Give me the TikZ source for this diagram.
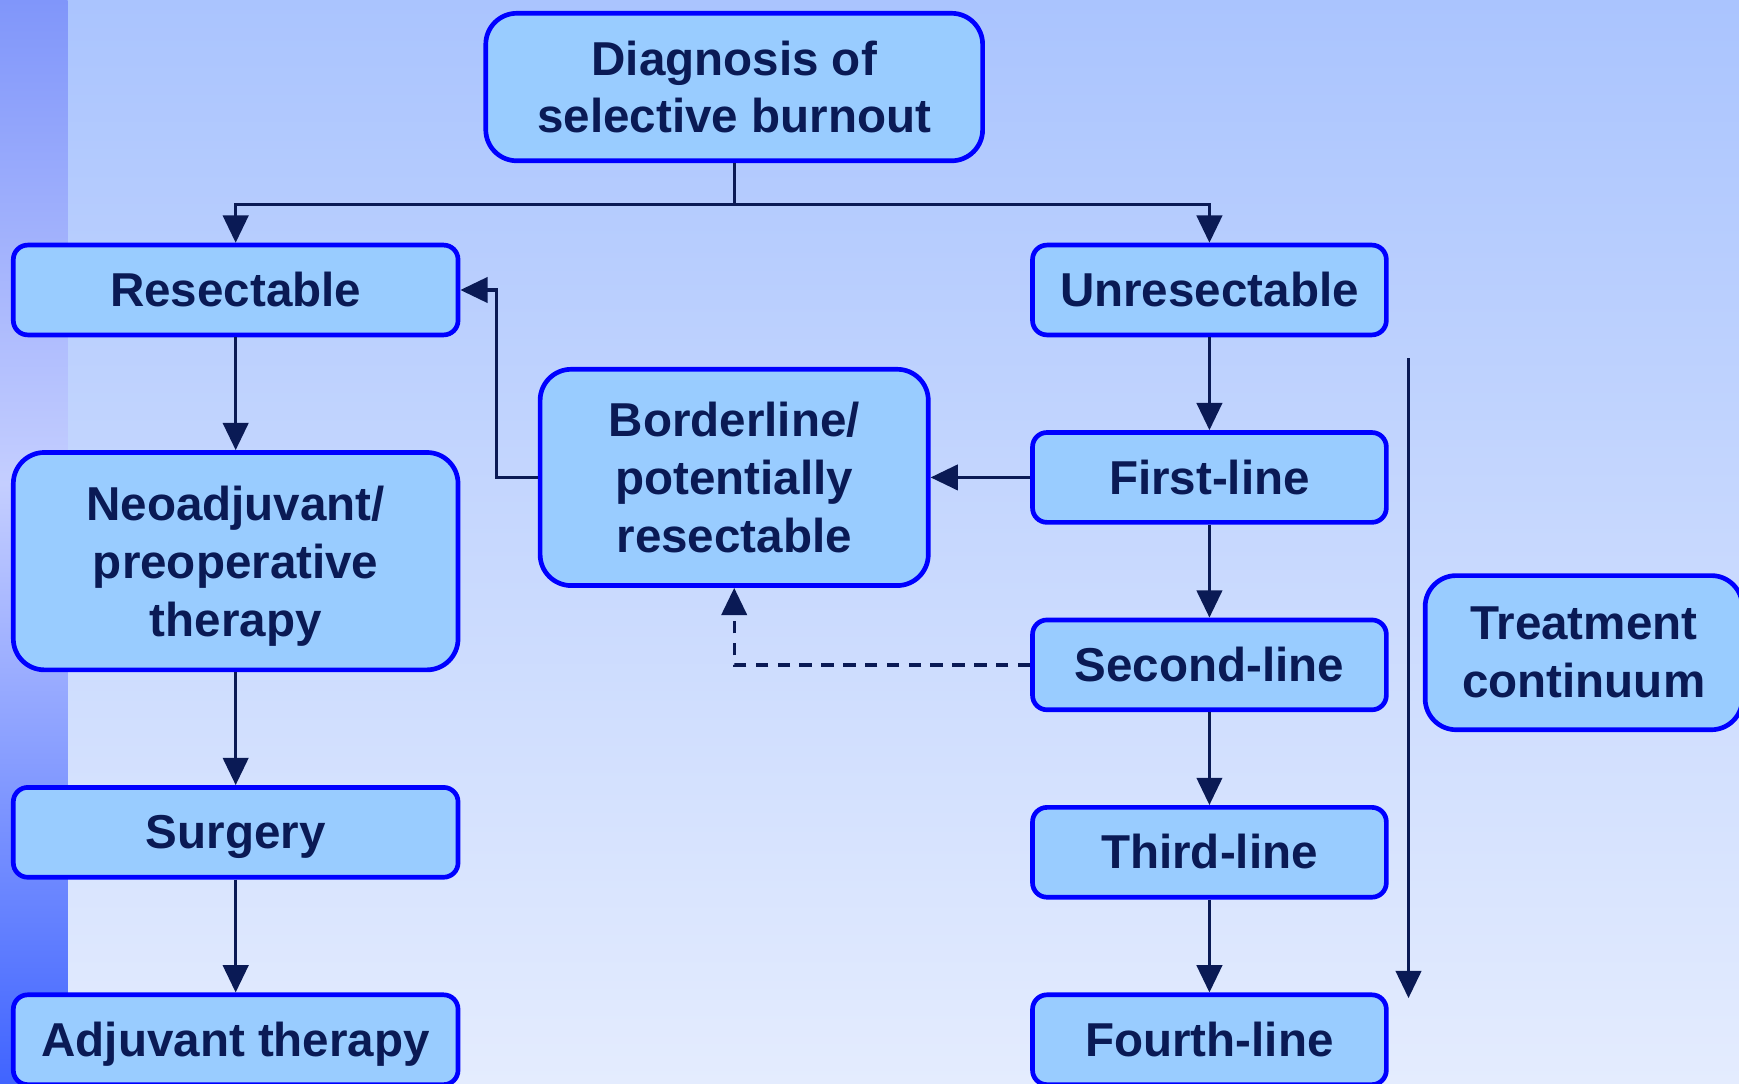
\documentclass[tikz,border=0pt]{standalone}
\usepackage{fontspec}
\setmainfont{Liberation Sans}
\usepackage{tikz}
\usetikzlibrary{arrows.meta,positioning}
\usepackage{xcolor}

\definecolor{navy}{HTML}{0A1A55}
\definecolor{boxfill}{HTML}{99CCFF}
\definecolor{boxline}{HTML}{0000FF}
\definecolor{bgtop}{RGB}{170,196,254}
\definecolor{bgbot}{RGB}{228,236,254}
\definecolor{striptop}{RGB}{128,150,250}
\definecolor{stripmid}{RGB}{196,206,255}
\definecolor{stripbot}{RGB}{64,100,255}

\begin{document}
\begin{tikzpicture}[
    every node/.style={font=\fontsize{12.2}{14.8}\selectfont\bfseries, text=navy},
    basebox/.style={draw=boxline, line width=1.2pt, fill=boxfill,
        inner sep=0pt, align=center},
    box/.style={basebox, rounded corners=0.13cm, minimum height=0.81cm,
        text height=8.5pt, text depth=0pt},
    bigbox/.style={basebox, rounded corners=0.28cm},
    link/.style={-{Triangle[length=7pt, width=6.5pt]}, draw=navy, line width=0.85pt}
  ]
    \useasboundingbox (0,0) rectangle (15.68,-9.77);

    % Background
    \shade[top color=bgtop, bottom color=bgbot] (0,0) rectangle (15.68,-9.77);
    \shade[top color=striptop, bottom color=stripmid] (0,0) rectangle (0.61,-4.36);
    \shade[top color=stripmid, bottom color=stripbot] (0,-4.36) rectangle (0.61,-9.77);

    % Diagnosis
    \node[bigbox, minimum width=4.48cm, minimum height=1.33cm] (diag) at (6.62,-0.785) {Diagnosis of\\selective burnout};

    % Resectable branch
    \node[box, minimum width=4.01cm] (res) at (2.125,-2.615) {Resectable};
    \node[bigbox, minimum width=4.01cm, minimum height=1.96cm, text depth=0pt] (neo) at (2.125,-5.06) {Neoadjuvant/\\preoperative\\therapy};
    \node[box, minimum width=4.01cm] (surg) at (2.125,-7.505) {Surgery};
    \node[box, minimum width=4.01cm] (adj) at (2.125,-9.375) {Adjuvant therapy};

    % Borderline
    \node[bigbox, minimum width=3.50cm, minimum height=1.95cm] (bord) at (6.62,-4.305) {Borderline/\\potentially\\resectable};

    % Unresectable branch
    \node[box, minimum width=3.19cm] (unres) at (10.905,-2.615) {Unresectable};
    \node[box, minimum width=3.19cm] (first) at (10.905,-4.305) {First-line};
    \node[box, minimum width=3.19cm] (second) at (10.905,-5.995) {Second-line};
    \node[box, minimum width=3.19cm] (third) at (10.905,-7.685) {Third-line};
    \node[box, minimum width=3.19cm] (fourth) at (10.905,-9.375) {Fourth-line};

    % Treatment continuum
    \node[bigbox, minimum width=2.86cm, minimum height=1.39cm] (cont) at (14.28,-5.885) {Treatment\\continuum};
    \coordinate (ctop) at (12.70,-3.23);
    \coordinate (cbot) at (12.70,-9.00);

    % Arrows
    \draw[link] (diag.south) -- ++(0,-0.37) -| (res.north);
    \draw[link] (diag.south) -- ++(0,-0.37) -| (unres.north);
    \draw[link] (res) -- (neo);
    \draw[link] (neo) -- (surg);
    \draw[link] (surg) -- (adj);
    \draw[link] (unres) -- (first);
    \draw[link] (first) -- (second);
    \draw[link] (second) -- (third);
    \draw[link] (third) -- (fourth);
    \draw[link] (first) -- (bord);
    \draw[link] (bord.west) -- ++(-0.37,0) |- (res.east);
    \draw[link, dash pattern=on 3.2pt off 2.4pt] (second.west) -| (bord.south);
    \draw[link] (ctop) -- (cbot);

\end{tikzpicture}
\end{document}
